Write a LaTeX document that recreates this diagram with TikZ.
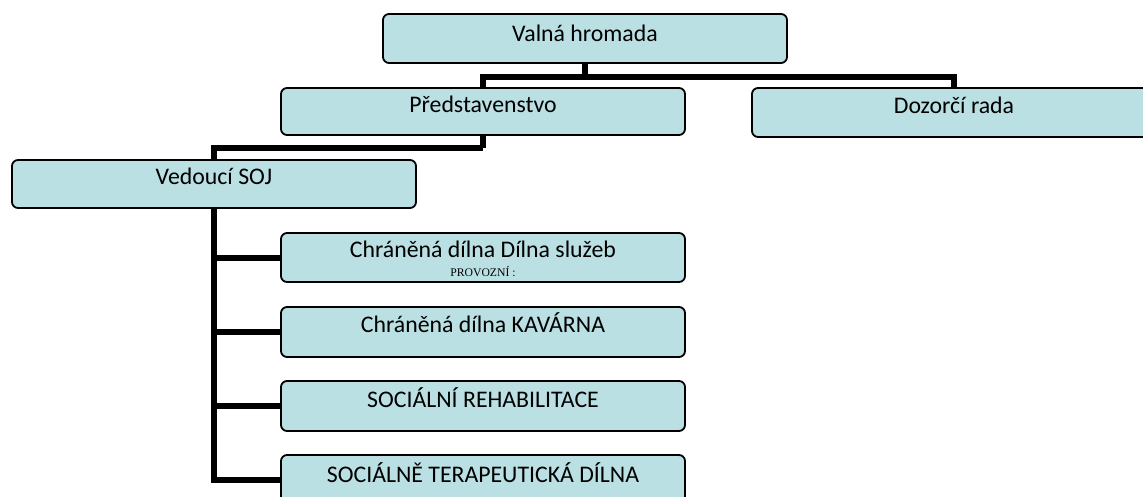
\documentclass[tikz,border=0pt]{standalone}
\usepackage{fontspec}
\setmainfont{Carlito}
\newfontfamily\smallserif{Liberation Serif}
\usetikzlibrary{backgrounds}
\definecolor{boxfill}{HTML}{BBE0E3}
\begin{document}
\begin{tikzpicture}[x=1pt,y=-1pt,
  orgbox/.style={draw=black, line width=1.8pt, fill=boxfill, rounded corners=6pt,
    minimum width=404pt, inner xsep=0pt, inner ysep=0pt,
    text height=25pt, text depth=23pt, font=\fontsize{23.8}{28}\selectfont},
  conn/.style={line width=6pt, draw=black}]
\useasboundingbox (0,0) rectangle (1143,497);
\clip (0,0) rectangle (1143,497);
\coordinate (j1) at (585,77);
\coordinate (j2) at (483,148);
\node[orgbox, text height=28pt, text depth=21pt] (valna) at (585,38.5) {Valná hromada};
\node[orgbox, text height=25pt, text depth=22pt] (pred) at (483,111.5) {Představenstvo};
\node[orgbox, text height=26pt, text depth=23pt] (dozor) at (954,112.5) {Dozorčí rada};
\node[orgbox] (ved) at (214,184) {Vedoucí SOJ};
\node[orgbox, text height=24pt, text depth=25pt] (c1) at (483,257.5) {Chráněná dílna Dílna služeb};
\node[font=\smallserif\fontsize{11.7}{12}\selectfont, anchor=base, inner sep=0pt] (c1sub) at (483,276) {PROVOZNÍ :};
\node[orgbox, text height=25pt, text depth=25pt] (c2) at (483,332) {Chráněná dílna KAVÁRNA};
\node[orgbox, text height=26pt, text depth=24pt] (c3) at (483,406) {SOCIÁLNÍ REHABILITACE};
\node[orgbox, text height=27pt, text depth=22pt] (c4) at (483,479.5) {SOCIÁLNĚ TERAPEUTICKÁ DÍLNA};
\begin{scope}[on background layer]
\fill[white] (0,0) rectangle (1143,497);
\draw[conn] (valna.south) -- (j1);
\draw[conn] (pred.north) |- (j1) -| (dozor.north);
\draw[conn] (pred.south) -- (j2);
\draw[conn] (ved.north) |- (j2);
\draw[conn] (ved.south) |- (c4.west);
\draw[conn] (ved.south |- c1.west) -- (c1.west);
\draw[conn] (ved.south |- c2.west) -- (c2.west);
\draw[conn] (ved.south |- c3.west) -- (c3.west);
\end{scope}
\end{tikzpicture}
\end{document}
